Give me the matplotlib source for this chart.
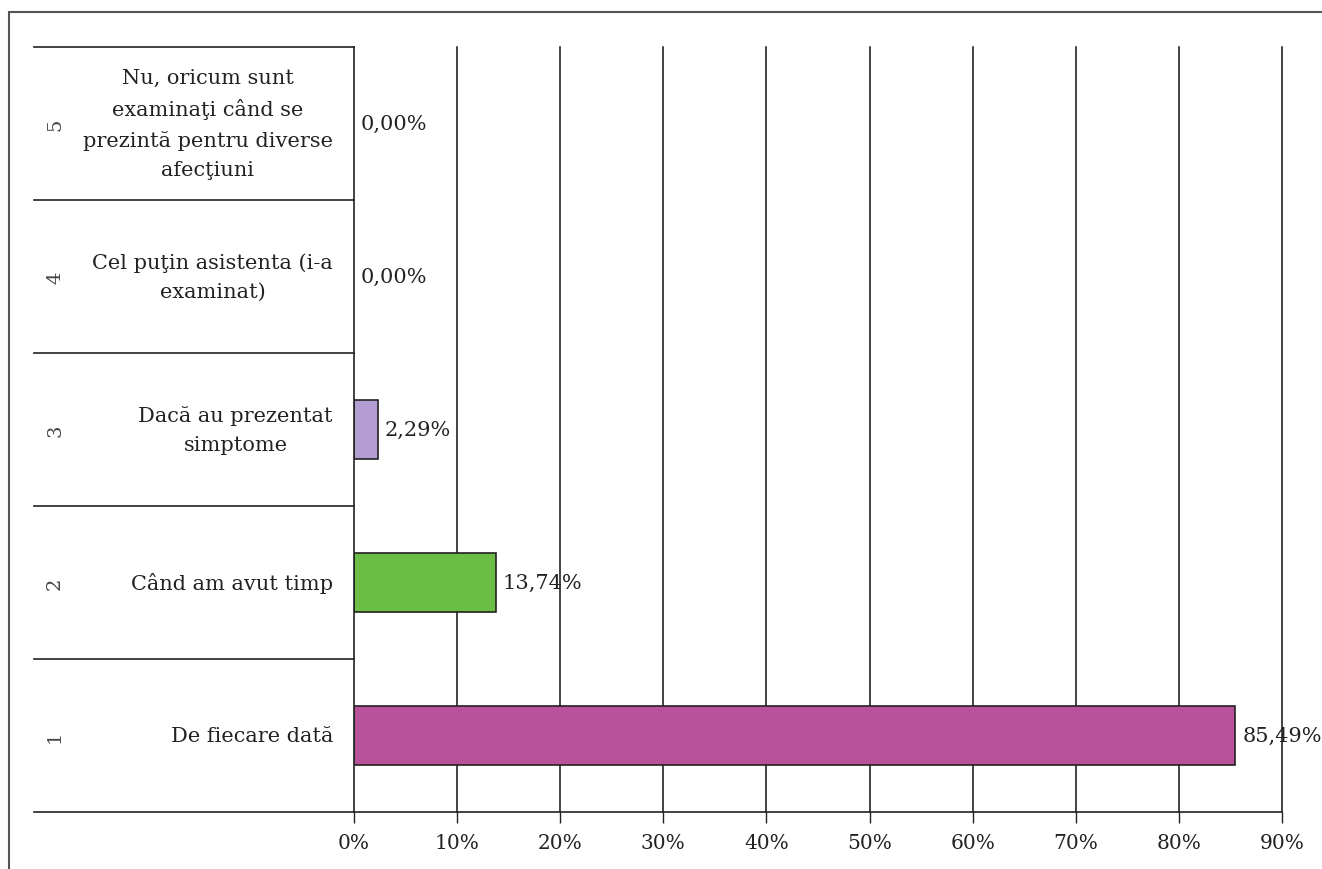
import matplotlib.pyplot as plt
from matplotlib.patches import Rectangle

plt.rcParams["font.family"] = ["DejaVu Serif"]

numbers = ["1", "2", "3", "4", "5"]
labels = [
    "De fiecare dată",
    "Când am avut timp",
    "Dacă au prezentat\nsimptome",
    "Cel puţin asistenta (i-a\nexaminat)",
    "Nu, oricum sunt\nexaminaţi când se\nprezintă pentru diverse\nafecţiuni",
]
values = [85.49, 13.74, 2.29, 0.0, 0.0]
bar_colors = ["#B8529B", "#6BBD45", "#B39DD1", "#4F81BD", "#C0504D"]
xticks = [0, 10, 20, 30, 40, 50, 60, 70, 80, 90]

W, H = 1322, 870
fig = plt.figure(figsize=(W / 100, H / 100), dpi=100)
ax = fig.add_axes([354 / W, 1 - 813 / H, (1282 - 354) / W, (813 - 48) / H])

pos = list(range(len(values)))
ax.barh(pos, values, height=0.39, color=bar_colors, edgecolor="#222222",
        linewidth=[1.2 if v > 0 else 0 for v in values], zorder=3)

for i, v in enumerate(values):
    ax.annotate(
        f"{v:.2f}".replace(".", ",") + "%",
        xy=(v, i), xytext=(5, 0), textcoords="offset points",
        ha="left", va="center", fontsize=15, color="#222222", zorder=4,
    )

ax.set_xlim(0, 90)
ax.set_ylim(-0.5, len(values) - 0.5)
ax.set_xticks(xticks)
ax.set_xticklabels([f"{t}%" for t in xticks], fontsize=14.5, color="#222222")
ax.tick_params(axis="x", direction="out", length=8, width=1, color="#222222", pad=7)
ax.set_yticks([])

# vertical gridlines (drawn unclipped so the 90% line is full width)
for t in xticks[1:]:
    ax.axvline(t, color="#111111", linewidth=1.1, zorder=1, clip_on=False)

for s in ["top", "right"]:
    ax.spines[s].set_visible(False)
for s in ["left", "bottom"]:
    ax.spines[s].set_color("#222222")
    ax.spines[s].set_linewidth(1.2)
    ax.spines[s].set_zorder(5)

# category area: separators, numbers and labels
ytr = ax.get_yaxis_transform()
left_edge = (34 - 354) / (1282 - 354)
for k in range(len(values) + 1):
    ax.plot([left_edge, 0], [k - 0.5, k - 0.5], transform=ytr, color="#222222",
            linewidth=1.2, clip_on=False)

num_x = (55 - 354) / (1282 - 354)
lab_x = (333 - 354) / (1282 - 354)
for i in pos:
    ax.text(num_x, i, numbers[i], transform=ytr, rotation=90, ha="center", va="center",
            fontsize=14, color="#444444")
    ax.text(lab_x, i, labels[i], transform=ytr, ha="right", va="center",
            multialignment="center", fontsize=15, color="#222222", linespacing=1.65)

# outer frame
fig.patches.append(Rectangle((9 / W, -0.2), 2, 1.2 - 13 / H, transform=fig.transFigure,
                             fill=False, edgecolor="#555555", linewidth=1.5))

fig.savefig("out.png", dpi=100)
